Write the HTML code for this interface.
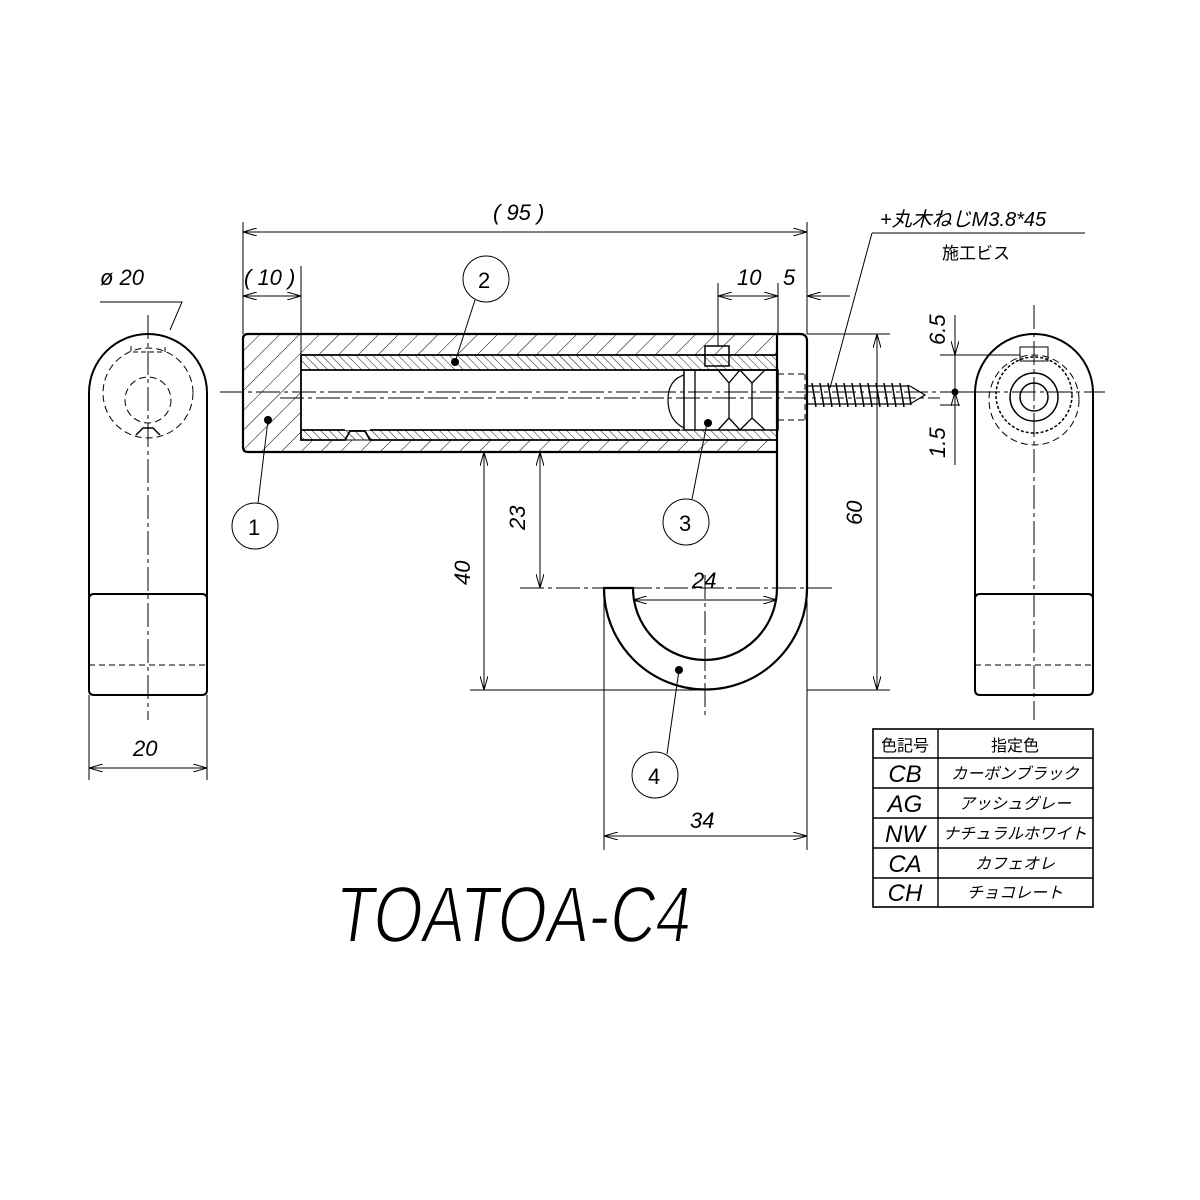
<!DOCTYPE html>
<html><head><meta charset="utf-8"><style>
html,body{margin:0;padding:0;background:#fff;}
svg{display:block;}
text{font-family:"Liberation Sans","Noto Sans CJK JP",sans-serif;fill:#000;}
</style></head><body>
<svg width="1200" height="1200" viewBox="0 0 1200 1200" xmlns="http://www.w3.org/2000/svg">
<defs>
<pattern id="h1" width="14" height="14" patternUnits="userSpaceOnUse" patternTransform="rotate(45)">
<line x1="0" y1="0" x2="0" y2="14" stroke="#000" stroke-width="1"/></pattern>
<pattern id="h2" width="6" height="6" patternUnits="userSpaceOnUse" patternTransform="rotate(-45)">
<line x1="0" y1="0" x2="0" y2="6" stroke="#000" stroke-width="0.9"/></pattern>
<marker id="a" markerWidth="14" markerHeight="8" refX="14" refY="4" orient="auto-start-reverse" markerUnits="userSpaceOnUse">
<path d="M0,0 L14,4 L0,8" fill="none" stroke="#000" stroke-width="1"/></marker>
</defs>
<g fill="none" stroke="#000" stroke-width="1">
<path d="M248,334 H778 V355 H301 V440 H778 V452 H248 Q243,452 243,447 V339 Q243,334 248,334 Z" fill="url(#h1)"/>
<rect x="301" y="355" width="477" height="15" fill="url(#h2)"/>
<rect x="301" y="430" width="477" height="10" fill="url(#h2)"/>
<rect x="301" y="370" width="380" height="60" fill="#fff" stroke="none"/>
<path d="M248,334 H778 V452 H248 Q243,452 243,447 V339 Q243,334 248,334 Z" stroke-width="2.2"/>
<path d="M301,355 H778 M301,355 V440 H345 L350,431 H365 L370,440 H778 M301,370 H778 M301,430 H345 M370,430 H680" stroke-width="1.8"/>
<path d="M778,334 H800 Q807,334 807,341 V588 A101,101 0 0 1 604,588 H633 A72,72 0 0 0 777,588 V334" fill="#fff" stroke-width="2.2"/>
<rect x="705" y="346" width="24" height="20" stroke-width="1.5"/>
<path d="M684,370 H778 V430 H684 Z" stroke-width="1.5"/>
<path d="M695,370 V430 M718,370 L729,383 L740,370 L752,383 L765,370 M718,430 L729,418 L740,430 L752,418 L765,430 M729,383 V418 M752,383 V418" stroke-width="1.3"/>
<path d="M684,375 Q668,380 668,400 Q668,420 684,428" stroke-width="1.2"/>
<path d="M778,374 H805 M778,420 H805 M805,374 V420" stroke-dasharray="6,4"/>
<path d="M807,386 H910 M807,404 H910 M910,386 L925,395 L910,404" stroke-width="1.2"/>
<path d="M812,383 l4,24 M820,383 l4,24 M828,383 l4,24 M836,383 l4,24 M844,383 l4,24 M852,383 l4,24 M860,383 l4,24 M868,383 l4,24 M876,383 l4,24 M884,383 l4,24 M892,383 l4,24 M900,383 l4,24 M908,385 l3,20" stroke-width="1.5"/>
<path d="M220,392 H1105 M280,398 H940 M705,575 V715 M148,315 V720 M1034,305 V720 M520,588 H835" stroke-dasharray="24,4,4,4"/>
<path d="M243,222 V334 M807,222 V334"/>
<line x1="243" y1="232" x2="807" y2="232" marker-start="url(#a)" marker-end="url(#a)"/>
<line x1="301" y1="266" x2="301" y2="355"/>
<line x1="243" y1="296" x2="301" y2="296" marker-start="url(#a)" marker-end="url(#a)"/>
<path d="M718,283 V346 M778,283 V334"/>
<line x1="718" y1="296" x2="778" y2="296" marker-start="url(#a)" marker-end="url(#a)"/>
<line x1="850" y1="296" x2="807" y2="296" marker-end="url(#a)"/>
<path d="M807,334 H890 M807,690 H890 M470,690 H705"/>
<line x1="877" y1="334" x2="877" y2="690" marker-start="url(#a)" marker-end="url(#a)"/>
<line x1="484" y1="452" x2="484" y2="690" marker-start="url(#a)" marker-end="url(#a)"/>
<line x1="540" y1="452" x2="540" y2="588" marker-start="url(#a)" marker-end="url(#a)"/>
<line x1="633" y1="600" x2="777" y2="600" marker-start="url(#a)" marker-end="url(#a)"/>
<path d="M604,588 V850 M807,600 V850 M89,695 V780 M207,695 V780"/>
<line x1="604" y1="836" x2="807" y2="836" marker-start="url(#a)" marker-end="url(#a)"/>
<line x1="89" y1="768" x2="207" y2="768" marker-start="url(#a)" marker-end="url(#a)"/>
<path d="M940,355 H1020 M940,392 H975 M940,405 H960 M955,315 V465"/>
<line x1="955" y1="315" x2="955" y2="355" marker-end="url(#a)"/>
<line x1="955" y1="432" x2="955" y2="392" marker-end="url(#a)"/>
<path d="M872,233 H1085 M872,233 L830,388"/>
<path d="M89,393 A59,59 0 0 1 207,393 V690 Q207,695 202,695 H94 Q89,695 89,690 Z" stroke-width="2"/>
<path d="M89,599 Q89,594 94,594 H202 Q207,594 207,599" stroke-width="2"/>
<line x1="89" y1="665" x2="207" y2="665" stroke-dasharray="6,4"/>
<circle cx="148" cy="393" r="45" stroke-dasharray="7,4"/>
<circle cx="148" cy="400" r="23" stroke-dasharray="7,4"/>
<path d="M131,346 V352 H165 V346" stroke-dasharray="5,3"/>
<path d="M136,435 L143,428 H153 L160,435" stroke-width="1.5"/>
<path d="M100,302 H182 L170,330"/>
<path d="M975,393 A59,59 0 0 1 1093,393 V690 Q1093,695 1088,695 H980 Q975,695 975,690 Z" stroke-width="2"/>
<path d="M975,599 Q975,594 980,594 H1088 Q1093,594 1093,599" stroke-width="2"/>
<line x1="975" y1="665" x2="1093" y2="665" stroke-dasharray="6,4"/>
<circle cx="1034" cy="400" r="45" stroke-dasharray="7,4"/>
<circle cx="1034" cy="395" r="38" stroke-dasharray="3,2" stroke-width="1.5"/>
<circle cx="1034" cy="397" r="24" stroke-width="1.5"/>
<circle cx="1034" cy="397" r="14" stroke-width="1.5"/>
<rect x="1020" y="347" width="28" height="14"/>
<circle cx="486" cy="279" r="23"/><line x1="475" y1="300" x2="455" y2="362"/>
<circle cx="255" cy="526" r="23"/><line x1="258" y1="503" x2="268" y2="420"/>
<circle cx="686" cy="522" r="23"/><line x1="692" y1="499" x2="707" y2="423"/>
<circle cx="655" cy="775" r="23"/><line x1="667" y1="754" x2="679" y2="670"/>
<rect x="873" y="729" width="220" height="178" stroke-width="1.6"/>
<path d="M938,729 V907 M873,758 H1093 M873,788 H1093 M873,818 H1093 M873,848 H1093 M873,878 H1093" stroke-width="1.4"/>
</g>
<g fill="#000">
<circle cx="455" cy="362" r="4"/><circle cx="268" cy="420" r="4"/><circle cx="708" cy="423" r="4"/><circle cx="679" cy="670" r="4"/><circle cx="955" cy="392" r="3.5"/>
</g>
<g font-size="22" font-style="italic">
<text x="493" y="220">( 95 )</text>
<text x="244" y="285">( 10 )</text>
<text x="737" y="285">10</text>
<text x="783" y="285">5</text>
<text x="100" y="285">ø 20</text>
<text x="692" y="588">24</text>
<text x="690" y="828">34</text>
<text x="133" y="756">20</text>
<text x="478" y="288" font-style="normal">2</text>
<text x="248" y="535" font-style="normal">1</text>
<text x="679" y="531" font-style="normal">3</text>
<text x="648" y="784" font-style="normal">4</text>
<text transform="translate(862,525) rotate(-90)">60</text>
<text transform="translate(470,585) rotate(-90)">40</text>
<text transform="translate(525,530) rotate(-90)">23</text>
<text transform="translate(945,345) rotate(-90)">6.5</text>
<text transform="translate(945,458) rotate(-90)">1.5</text>
<text x="880" y="226" font-size="20">+丸木ねじM3.8*45</text>
<text x="942" y="259" font-size="17" font-style="normal">施工ビス</text>
</g>
<g font-size="16" text-anchor="middle">
<text x="905" y="751">色記号</text><text x="1015" y="751">指定色</text>
<text x="905" y="782" font-size="24" font-style="italic">CB</text><text x="1015" y="779" font-style="italic">カーボンブラック</text>
<text x="905" y="812" font-size="24" font-style="italic">AG</text><text x="1015" y="809" font-style="italic">アッシュグレー</text>
<text x="905" y="842" font-size="24" font-style="italic">NW</text><text x="1015" y="839" font-style="italic">ナチュラルホワイト</text>
<text x="905" y="872" font-size="24" font-style="italic">CA</text><text x="1015" y="869" font-style="italic">カフェオレ</text>
<text x="905" y="901" font-size="24" font-style="italic">CH</text><text x="1015" y="898" font-style="italic">チョコレート</text>
</g>
<text x="0" y="0" font-size="80" textLength="355" lengthAdjust="spacingAndGlyphs" transform="translate(333,942) skewX(-8)" style="fill:#000;stroke:#fff;stroke-width:2">TOATOA-C4</text>
</svg>
</body></html>
